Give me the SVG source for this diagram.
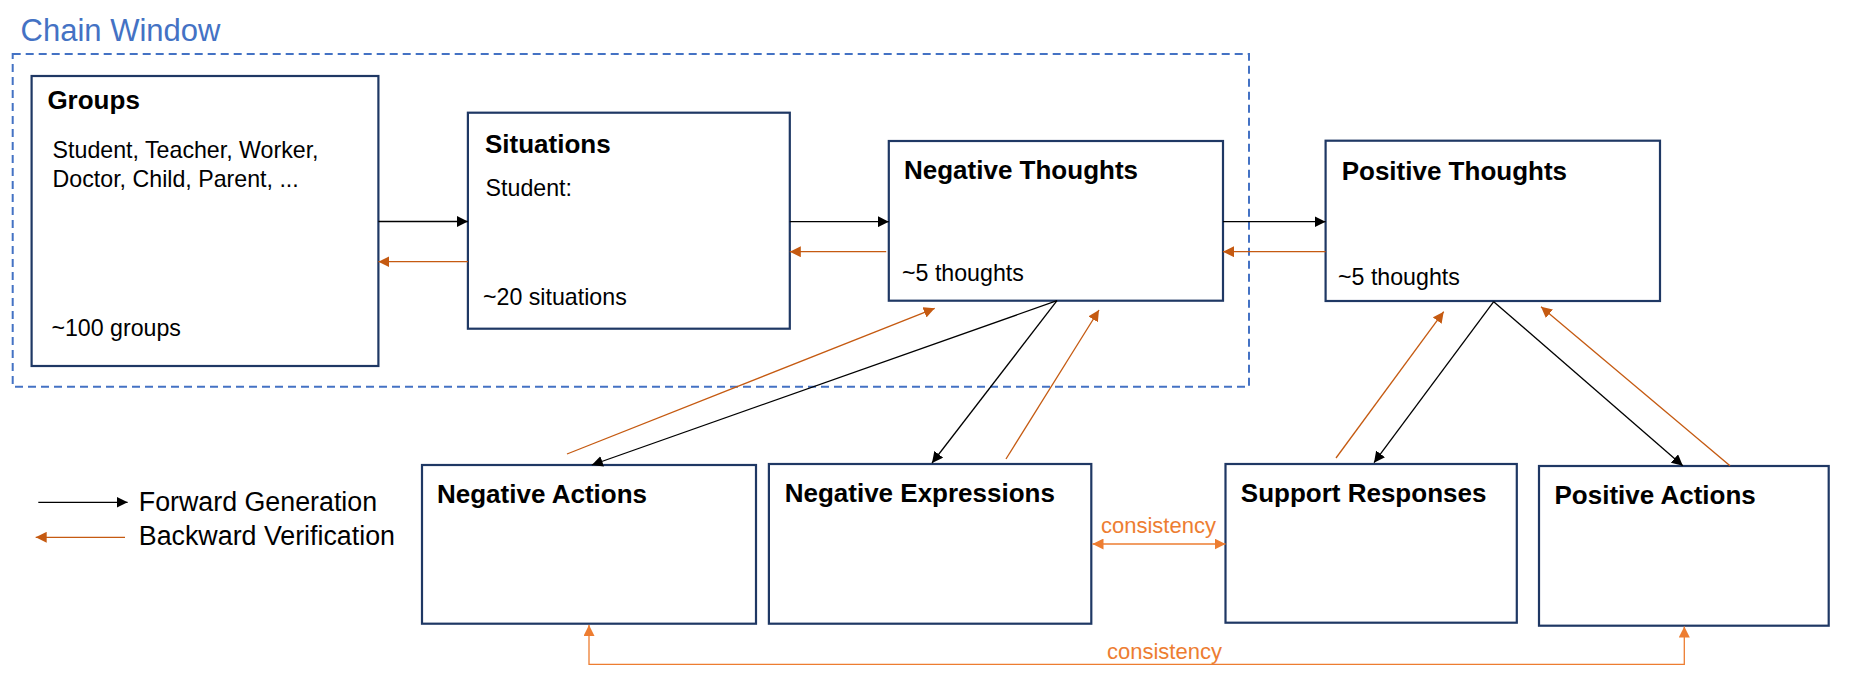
<svg xmlns="http://www.w3.org/2000/svg" width="1849" height="696" viewBox="0 0 1849 696">
<style>
  .box{fill:#fff;stroke:#1F3864;stroke-width:2.2}
  .title{font-family:"Liberation Sans",Arial,sans-serif;font-weight:bold;font-size:26px;fill:#000}
  .body{font-family:"Liberation Sans",Arial,sans-serif;font-size:23.2px;fill:#000}
  .legend{font-family:"Liberation Sans",Arial,sans-serif;font-size:26.8px;fill:#000}
  .cons{font-family:"Liberation Sans",Arial,sans-serif;font-size:22px;fill:#ED7D31}
  .fwd{stroke:#000;stroke-width:1.3;fill:none;marker-end:url(#ab)}
  .bwd{stroke:#C55A11;stroke-width:1.3;fill:none;marker-end:url(#ao)}
  .cl{stroke:#ED7D31;stroke-width:1.3;fill:none;marker-start:url(#ac);marker-end:url(#ac)}
</style>
<defs>
  <marker id="ab" markerUnits="userSpaceOnUse" markerWidth="12" markerHeight="11" refX="11" refY="5.5" orient="auto"><path d="M0,0 L11,5.5 L0,11 z" fill="#000"/></marker>
  <marker id="ao" markerUnits="userSpaceOnUse" markerWidth="12" markerHeight="11" refX="11" refY="5.5" orient="auto"><path d="M0,0 L11,5.5 L0,11 z" fill="#C55A11"/></marker>
  <marker id="ac" markerUnits="userSpaceOnUse" markerWidth="12" markerHeight="11" refX="11" refY="5.5" orient="auto-start-reverse"><path d="M0,0 L11,5.5 L0,11 z" fill="#ED7D31"/></marker>
</defs>
<rect width="1849" height="696" fill="#fff"/>

<g id="chain-window">
  <rect x="12.7" y="54" width="1236.3" height="332.7" fill="none" stroke="#4472C4" stroke-width="2" stroke-dasharray="8,5"/>
  <text x="20.6" y="40.7" font-family="Liberation Sans, Arial, sans-serif" font-size="31" fill="#4472C4">Chain Window</text>
</g>

<g id="groups">
  <rect class="box" x="31.6" y="76" width="346.8" height="290"/>
  <text class="title" x="47.4" y="109">Groups</text>
  <text class="body" x="52.6" y="157.7">Student, Teacher, Worker,</text>
  <text class="body" x="52.6" y="186.7">Doctor, Child, Parent, ...</text>
  <text class="body" x="51.4" y="336">~100 groups</text>
</g>

<g id="situations">
  <rect class="box" x="467.9" y="112.7" width="321.9" height="216"/>
  <text class="title" x="485" y="152.7">Situations</text>
  <text class="body" x="485.6" y="196">Student:</text>
  <text class="body" x="483" y="305">~20 situations</text>
</g>

<g id="negative-thoughts">
  <rect class="box" x="888.8" y="141" width="334.2" height="159.7"/>
  <text class="title" x="904" y="179.3" font-size="26.6">Negative Thoughts</text>
  <text class="body" x="902" y="280.7">~5 thoughts</text>
</g>

<g id="positive-thoughts">
  <rect class="box" x="1325.6" y="140.7" width="334.4" height="160.3"/>
  <text class="title" x="1341.7" y="180">Positive Thoughts</text>
  <text class="body" x="1338" y="285">~5 thoughts</text>
</g>

<g id="negative-actions">
  <rect class="box" x="422" y="465" width="334" height="158.7"/>
  <text class="title" x="437" y="503.3" font-size="26.6">Negative Actions</text>
</g>

<g id="negative-expressions">
  <rect class="box" x="768.9" y="464" width="322.4" height="159.7"/>
  <text class="title" x="784.7" y="502.3">Negative Expressions</text>
</g>

<g id="support-responses">
  <rect class="box" x="1225.5" y="464" width="291.3" height="158.7"/>
  <text class="title" x="1240.8" y="501.7">Support Responses</text>
</g>

<g id="positive-actions">
  <rect class="box" x="1539" y="466" width="289.7" height="159.7"/>
  <text class="title" x="1554.5" y="504.3">Positive Actions</text>
</g>

<g id="legend">
  <line class="fwd" x1="38.3" y1="502.3" x2="127.6" y2="502.3"/>
  <text class="legend" x="138.8" y="511">Forward Generation</text>
  <line class="bwd" x1="125" y1="537.3" x2="35.7" y2="537.3"/>
  <text class="legend" x="138.8" y="545.3">Backward Verification</text>
</g>

<g id="connectors">
  <line class="fwd" x1="378.4" y1="221.5" x2="467.9" y2="221.5"/>
  <line class="bwd" x1="467.9" y1="261.7" x2="378.4" y2="261.7"/>
  <line class="fwd" x1="789.8" y1="221.7" x2="888.8" y2="221.7"/>
  <line class="bwd" x1="886.2" y1="251.7" x2="789.8" y2="251.7"/>
  <line class="fwd" x1="1223" y1="221.7" x2="1325.6" y2="221.7"/>
  <line class="bwd" x1="1325.6" y1="251.7" x2="1223" y2="251.7"/>

  <line class="fwd" x1="1057" y1="300.7" x2="591.8" y2="465"/>
  <line class="bwd" x1="567" y1="454" x2="934.7" y2="308.3"/>
  <line class="fwd" x1="1057" y1="300.7" x2="932" y2="463"/>
  <line class="bwd" x1="1006" y1="459" x2="1099" y2="310"/>

  <line class="fwd" x1="1493.7" y1="301.7" x2="1374" y2="462.7"/>
  <line class="bwd" x1="1336" y1="458" x2="1443.7" y2="311.7"/>
  <line class="fwd" x1="1493.7" y1="301.7" x2="1682.8" y2="465.7"/>
  <line class="bwd" x1="1730" y1="465.7" x2="1541" y2="306.7"/>

  <line class="cl" x1="1092.5" y1="544" x2="1225.5" y2="544"/>
  <text class="cons" x="1101" y="532.7">consistency</text>
  <path class="cl" d="M589,625 V664.3 H1684.3 V626.5"/>
  <text class="cons" x="1107" y="659">consistency</text>
</g>
</svg>
